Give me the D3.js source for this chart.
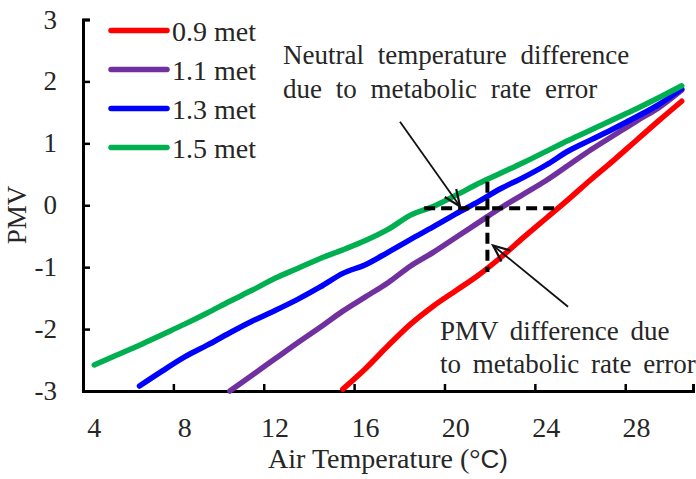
<!DOCTYPE html>
<html><head><meta charset="utf-8">
<script src="https://cdn.jsdelivr.net/npm/d3@7/dist/d3.min.js"></script>
<style>body{margin:0;background:#fff}svg{display:block}text{font-family:"Liberation Serif","Times New Roman",serif;fill:#262626}</style>
</head><body><svg id="c" width="696" height="479"></svg>
<script>
const temps = d3.range(4, 31);
const series = ["0.9 met", "1.1 met", "1.3 met", "1.5 met"];
const colors = ["#ff0000", "#7030a0", "#0000ff", "#00b050"];
const pmv09 = [null,null,null,null,null,null,null,null,null,null,null,-2.97,-2.64,-2.27,-1.92,-1.63,-1.38,-1.13,-0.84,-0.52,-0.21,0.10,0.42,0.73,1.05,1.37,1.68];
const pmv11 = [null,null,null,null,null,null,-3.0,-2.74,-2.48,-2.22,-1.97,-1.71,-1.48,-1.25,-0.98,-0.76,-0.52,-0.28,-0.04,0.18,0.40,0.65,0.90,1.13,1.36,1.58,1.86];
const pmv13 = [null,null,-2.92,-2.68,-2.45,-2.26,-2.06,-1.87,-1.70,-1.52,-1.32,-1.10,-0.96,-0.76,-0.55,-0.35,-0.14,0.06,0.27,0.45,0.65,0.88,1.06,1.24,1.43,1.63,1.88];
const pmv15 = [-2.58,-2.42,-2.26,-2.09,-1.92,-1.74,-1.55,-1.37,-1.18,-1.02,-0.86,-0.72,-0.57,-0.39,-0.16,-0.02,0.16,0.35,0.52,0.69,0.87,1.05,1.22,1.39,1.56,1.74,1.93];
const xTickLabels = [4, 8, 12, 16, 20, 24, 28];
const xTickMarks = [7.5, 11.5, 15.5, 19.5, 23.5, 27.5];
const yTicks = [-3, -2, -1, 0, 1, 2, 3];
const dashH = [[18.6, -0.05], [24.5, -0.05]];
const dashV = [[21.4, 0.38], [21.4, -1.08]];
const arrow1 = [[17.53, 1.35], [20.19, -0.02]];
const arrow2 = [[24.97, -1.64], [21.65, -0.65]];
const note1 = ["Neutral temperature difference", "due to metabolic rate error"];
const note2 = ["PMV difference due", "to metabolic rate error"];

const svg = d3.select("#c");
const x = d3.scaleLinear().domain([3.5, 30.5]).range([83, 693]);
const y = d3.scaleLinear().domain([-3, 3]).range([391, 19.5]);
const all = [pmv09, pmv11, pmv13, pmv15];

// axes
const gx = svg.append("g").attr("transform", `translate(0,${y(-3)})`)
  .call(d3.axisBottom(x).tickValues(xTickMarks).tickSize(-7).tickFormat(""));
gx.select(".domain").attr("stroke", "#000").attr("stroke-width", 3);
gx.selectAll(".tick line").attr("stroke", "#000").attr("stroke-width", 2.5);
svg.append("g").selectAll("text").data(xTickLabels).join("text")
  .attr("x", d => x(d)).attr("y", 437).attr("text-anchor", "middle")
  .style("font-size", "28px").text(d => d);

const gy = svg.append("g").attr("transform", `translate(${x(3.5)},0)`)
  .call(d3.axisLeft(y).tickValues(yTicks).tickSize(-7).tickFormat(""));
gy.select(".domain").attr("stroke", "#000").attr("stroke-width", 3);
gy.selectAll(".tick line").attr("stroke", "#000").attr("stroke-width", 2.5);
svg.append("g").selectAll("text").data(yTicks).join("text")
  .attr("x", 57).attr("y", d => y(d) + 9).attr("text-anchor", "end")
  .style("font-size", "27px").text(d => String(d));

// axis titles
const xt = svg.append("text").attr("x", 388).attr("y", 468).attr("text-anchor", "middle").style("font-size", "28px");
xt.append("tspan").text("Air Temperature (°");
xt.append("tspan").style("font-family", "'Liberation Sans',Arial,sans-serif").style("font-size", "26px").text("C)");
svg.append("text").attr("transform", `translate(26,215) rotate(-90)`).attr("text-anchor", "middle")
  .style("font-size", "27px").text("PMV");

// series lines
const line = d3.line().defined(d => d[1] !== null).x(d => x(d[0])).y(d => y(d[1])).curve(d3.curveMonotoneX);
all.forEach((vals, i) => {
  svg.append("path").datum(temps.map((t, k) => [t, vals[k]]))
    .attr("d", line).attr("fill", "none").attr("stroke", colors[i])
    .attr("stroke-width", 5.5).attr("stroke-linecap", "round").attr("stroke-linejoin", "round");
});

// dashed guides
const seg = d3.line().x(d => x(d[0])).y(d => y(d[1]));
[dashH, dashV].forEach(s => svg.append("path").attr("d", seg(s)).attr("stroke", "#000")
  .attr("stroke-width", 4).attr("stroke-dasharray", "11,6").attr("fill", "none"));

// arrows
function arrow(a) {
  const x1 = x(a[0][0]), y1 = y(a[0][1]), x2 = x(a[1][0]), y2 = y(a[1][1]);
  const ang = Math.atan2(y2 - y1, x2 - x1), L = 18, w = 0.4;
  svg.append("line").attr("x1", x1).attr("y1", y1).attr("x2", x2).attr("y2", y2)
    .attr("stroke", "#111").attr("stroke-width", 1.8);
  const p = [[x2 - L * Math.cos(ang - w), y2 - L * Math.sin(ang - w)], [x2, y2], [x2 - L * Math.cos(ang + w), y2 - L * Math.sin(ang + w)]];
  svg.append("path").attr("d", d3.line()(p)).attr("fill", "none").attr("stroke", "#111").attr("stroke-width", 2.2);
}
arrow(arrow1); arrow(arrow2);

// annotation text
note1.forEach((t, i) => svg.append("text").attr("x", 283).attr("y", 64 + i * 34)
  .style("font-size", "27px").style("word-spacing", "7px").text(t));
note2.forEach((t, i) => svg.append("text").attr("x", 440).attr("y", 340 + i * 33)
  .style("font-size", "27px").style("word-spacing", "5px").text(t));

// legend
const lg = svg.append("g");
series.forEach((s, i) => {
  const yy = 30.5 + i * 39;
  lg.append("line").attr("x1", 111).attr("x2", 167).attr("y1", yy).attr("y2", yy)
    .attr("stroke", colors[i]).attr("stroke-width", 5.5).attr("stroke-linecap", "round");
  lg.append("text").attr("x", 172).attr("y", yy + 10).style("font-size", "28px").text(s);
});
</script></body></html>
